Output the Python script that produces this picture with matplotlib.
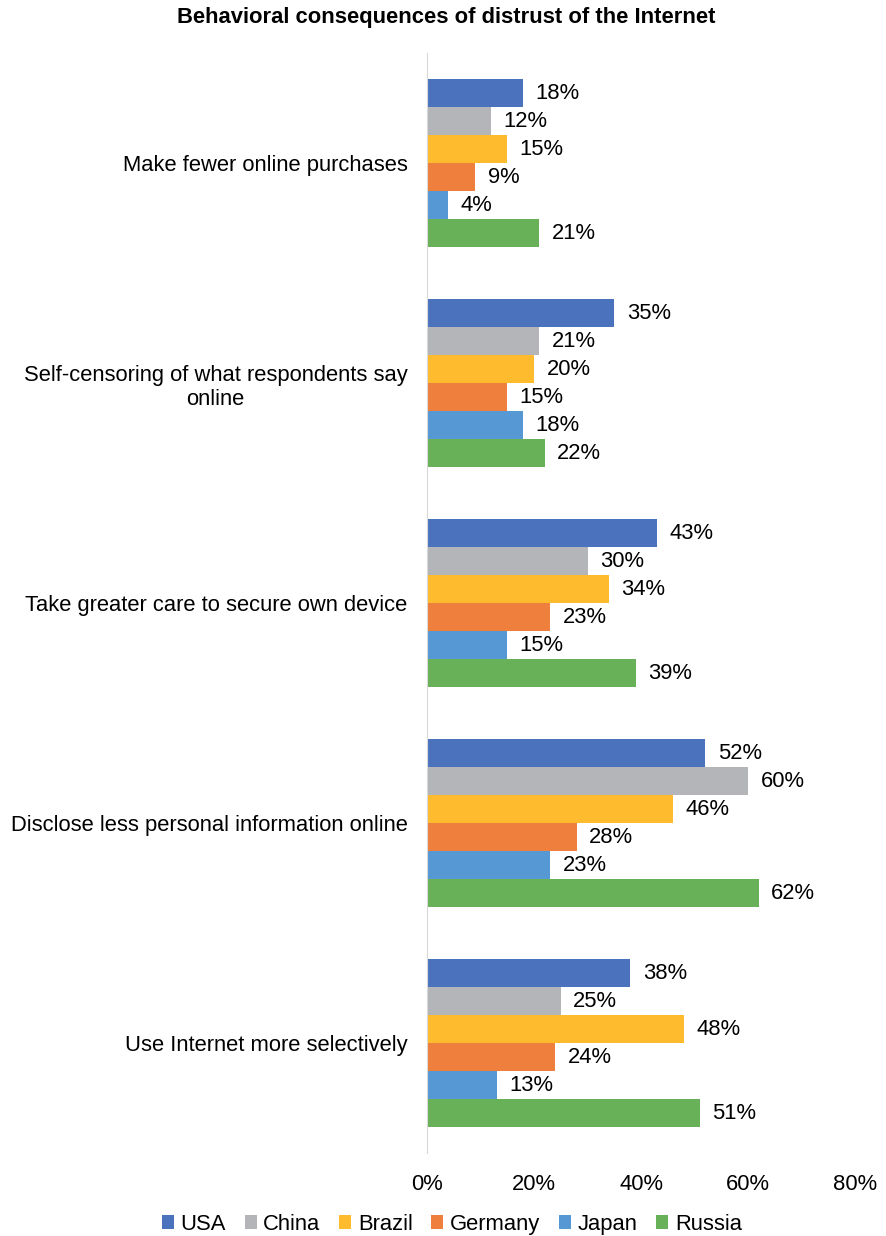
import numpy as np
import matplotlib.pyplot as plt

plt.rcParams['font.family'] = ['Liberation Sans', 'DejaVu Sans']

categories = ['Make fewer online purchases',
              'Self-censoring of what respondents say\nonline',
              'Take greater care to secure own device',
              'Disclose less personal information online',
              'Use Internet more selectively']
countries = ['USA', 'China', 'Brazil', 'Germany', 'Japan', 'Russia']
usa = [18, 35, 43, 52, 38]
china = [12, 21, 30, 60, 25]
brazil = [15, 20, 34, 46, 48]
germany = [9, 15, 23, 28, 24]
japan = [4, 18, 15, 23, 13]
russia = [21, 22, 39, 62, 51]
series = [usa, china, brazil, germany, japan, russia]
colors = ['#4a72bd', '#b3b5b8', '#fdbb2d', '#ee7f3d', '#5598d3', '#69b158']

fs = 15.8

fig = plt.figure(figsize=(8.86, 12.36), dpi=100)
ax = fig.add_axes([0.482, 0.067, 0.483, 0.890])

n = len(series)
bh = 0.765 / n
y = np.arange(len(categories))
for i, (vals, c, name) in enumerate(zip(series, colors, countries)):
    pos = y + (i - (n - 1) / 2) * bh
    bars = ax.barh(pos, vals, height=bh, color=c, label=name)
    for b, v in zip(bars, vals):
        ax.annotate(f'{v}%', (v, b.get_y() + b.get_height() / 2),
                    xytext=(9, 0), textcoords='offset points',
                    va='center', ha='left', fontsize=fs)

ax.set_ylim(len(categories) - 0.5, -0.5)
ax.set_xlim(0, 80)
ax.set_xticks([0, 20, 40, 60, 80])
ax.set_xticklabels([f'{t}%' for t in [0, 20, 40, 60, 80]], fontsize=fs)
ax.set_yticks(y)
ax.set_yticklabels(categories, fontsize=fs, multialignment='center')
ax.tick_params(length=0, pad=14)
ax.tick_params(axis='x', pad=15)
for s in ['top', 'right', 'bottom']:
    ax.spines[s].set_visible(False)
ax.spines['left'].set_color('#d9d9d9')

fig.suptitle('Behavioral consequences of distrust of the Internet',
             fontsize=15.8, fontweight='bold', x=0.504, y=0.994)

fig.legend(loc='lower center', ncol=6, frameon=False, fontsize=fs,
           bbox_to_anchor=(0.51, -0.015), handlelength=0.55, handleheight=0.55,
           handletextpad=0.3, columnspacing=0.85)

fig.savefig('out.png', dpi=100)
